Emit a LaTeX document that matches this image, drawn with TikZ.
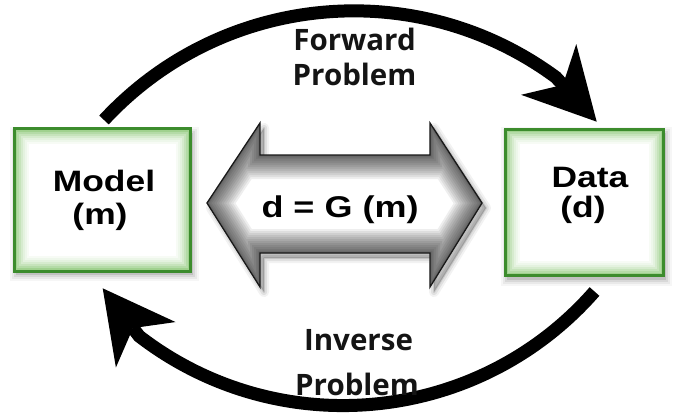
\documentclass[tikz,border=0pt]{standalone}
\usepackage{fontspec}
\newfontfamily\boxfont[FakeStretch=1.2]{Liberation Sans}
\newfontfamily\probfont{Open Sans}
\usetikzlibrary{arrows.meta}
\definecolor{boxgreen}{RGB}{60,140,45}
\definecolor{glowgreen}{RGB}{120,190,95}
\pgfdeclarelayer{background}
\pgfsetlayers{background,main}
\def\dblpath{(207,213) -- (260,293) -- (260,261) -- (430,261) -- (430,293) -- (482,213) -- (430,129) -- (430,163) -- (260,163) -- (260,129) -- cycle}
\begin{document}
\begin{tikzpicture}[x=1pt,y=1pt,
  greenbox/.style={draw=none, fill=white, inner sep=0pt},
  boxlabel/.style={font=\boxfont\bfseries\fontsize{29.5}{34}\selectfont, anchor=base, inner sep=0pt, text=black},
  eqlabel/.style={font=\boxfont\bfseries\fontsize{30}{34}\selectfont, anchor=base, inner sep=0pt, text=black},
  problabel/.style={font=\probfont\bfseries\fontsize{29.5}{34}\selectfont, anchor=base, inner sep=0pt, text=black!92},
  cyclearrow/.style={line width=13pt, black, -{Stealth[length=71pt,width=75pt,inset=21pt,line width=0pt]}},
]
\useasboundingbox (0,0) rectangle (676,416);

% boxes
\node[greenbox, minimum width=176pt, minimum height=142pt] (model) at (102.5,216) {};
\node[greenbox, minimum width=158pt, minimum height=146pt] (data) at (584.5,213.5) {};

\begin{pgfonlayer}{background}
  \fill[white] (0,0) rectangle (676,416);
  \foreach \n in {model,data} {
    \foreach \e/\o in {6/0.035,4/0.05,2/0.07,0/0.1} {
      \fill[black,opacity=\o] ([shift={(2-\e,-4-\e)}]\n.south west) rectangle ([shift={(2+\e,-4+\e)}]\n.north east);
    }
  }
  \begin{scope}[shift={(4,-5)}]
    \foreach \w/\o in {10/0.05,6/0.07,2/0.1} {
      \filldraw[black,opacity=\o,line width=\w pt,line join=round] \dblpath;
    }
  \end{scope}
\end{pgfonlayer}

\foreach \n in {model,data} {
  \foreach \i/\o in {1/0.7,2/0.55,3/0.42,4/0.3,5/0.2,6/0.12,7/0.06} {
    \draw[glowgreen, opacity=\o, line width=2.2pt] ([shift={(\i*2,\i*2)}]\n.south west) rectangle ([shift={(-\i*2,-\i*2)}]\n.north east);
  }
  \draw[boxgreen, line width=3pt] (\n.south west) rectangle (\n.north east);
}

\node[boxlabel] (modelname) at (104,225) {Model};
\node[boxlabel] (modelsym) at (100,192) {(m)};
\node[boxlabel] (dataname) at (590,229) {Data};
\node[boxlabel] (datasym) at (583,199) {(d)};

% double arrow
\begin{scope}
  \clip \dblpath;
  \fill[white] \dblpath;
  \foreach \w in {48,44,40,36,32,28,24,20,16,12,8,5,3} {
    \draw[black, opacity=0.065, line width=\w pt, line join=miter] \dblpath;
  }
\end{scope}
\draw[black!90, line width=1.3pt, line join=miter] \dblpath;
\node[eqlabel] (eq) at (340,199) {d = G (m)};

% cycle arrows
\coordinate (ftail) at (104,296);
\coordinate (ftip) at (596.7,294.3);
\draw[cyclearrow] (ftail) arc[start angle=137.2, end angle=53.6, radius=340.5] -- (ftip);
\coordinate (itail) at (594.5,124.5);
\coordinate (itip) at (102.7,127.7);
\draw[cyclearrow] (itail) arc[start angle=-41.2, end angle=-127.6, radius=334.2] -- (itip);

\node[problabel] (fwd1) at (354.5,366) {Forward};
\node[problabel] (fwd2) at (354.5,331) {Problem};
\node[problabel] (inv1) at (358.5,66) {Inverse};
\node[problabel] (inv2) at (357,21) {Problem};
\end{tikzpicture}
\end{document}
